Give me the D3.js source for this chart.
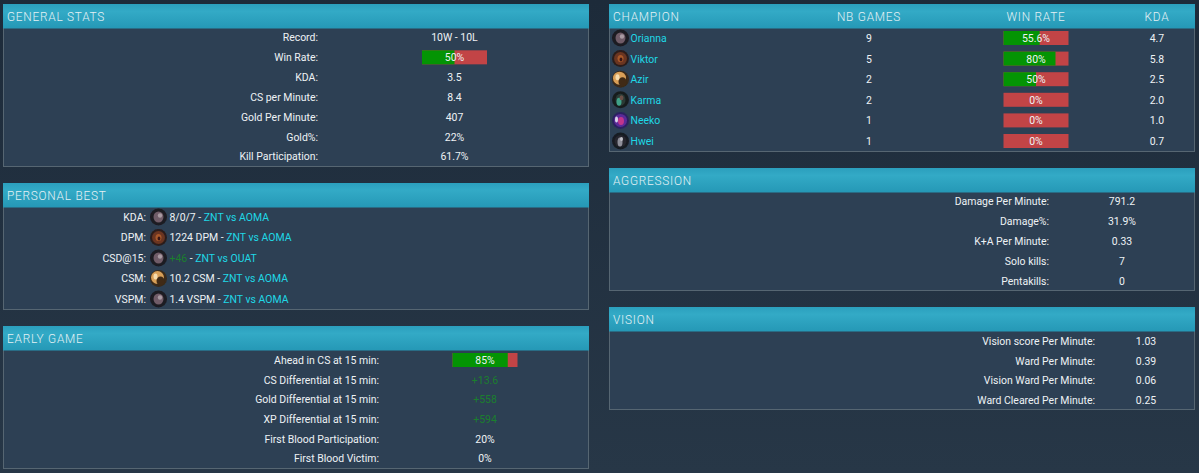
<!DOCTYPE html>
<html>
<head>
<meta charset="utf-8">
<script src="https://cdn.jsdelivr.net/npm/d3@7"></script>
<style>
html, body { margin: 0; padding: 0; background: #1f2e3e; overflow: hidden; }
text { font-family: Roboto, sans-serif; font-size: 11.5px; fill: #eef2f4; }
.head { font-size: 13px; font-weight: 300; letter-spacing: 0.85px; fill: #e4f1f5; }
.link { fill: #1fd8e6; }
.up { fill: #1b7f2e; }
</style>
</head>
<body>
<svg id="chart" width="1199" height="473"></svg>
<script>
// general stats
var generalLabels = ["Record:", "Win Rate:", "KDA:", "CS per Minute:", "Gold Per Minute:", "Gold%:", "Kill Participation:"];
var generalValues = ["10W - 10L", 50, "3.5", "8.4", "407", "22%", "61.7%"];

// personal best
var bestLabels = ["KDA:", "DPM:", "CSD@15:", "CSM:", "VSPM:"];
var bestIcons = ["Orianna", "Viktor", "Orianna", "Azir", "Orianna"];
var bestValues = ["8/0/7", "1224 DPM", "+46", "10.2 CSM", "1.4 VSPM"];
var bestGames = ["ZNT vs AOMA", "ZNT vs AOMA", "ZNT vs OUAT", "ZNT vs AOMA", "ZNT vs AOMA"];

// early game
var earlyLabels = ["Ahead in CS at 15 min:", "CS Differential at 15 min:", "Gold Differential at 15 min:", "XP Differential at 15 min:", "First Blood Participation:", "First Blood Victim:"];
var earlyValues = [85, "+13.6", "+558", "+594", "20%", "0%"];

// champions
var champions = ["Orianna", "Viktor", "Azir", "Karma", "Neeko", "Hwei"];
var champGames = [9, 5, 2, 2, 1, 1];
var champWin = [55.6, 80, 50, 0, 0, 0];
var champKda = ["4.7", "5.8", "2.5", "2.0", "1.0", "0.7"];
var champHeaders = ["NB GAMES", "WIN RATE", "KDA"];

// aggression
var aggrLabels = ["Damage Per Minute:", "Damage%:", "K+A Per Minute:", "Solo kills:", "Pentakills:"];
var aggrValues = ["791.2", "31.9%", "0.33", "7", "0"];

// vision
var visionLabels = ["Vision score Per Minute:", "Ward Per Minute:", "Vision Ward Per Minute:", "Ward Cleared Per Minute:"];
var visionValues = ["1.03", "0.39", "0.06", "0.25"];

// icon look: rim colour, then blobs as [dx, dy, rx, ry, colour]
var iconLook = {
  Orianna: ["#1d1a20", [[0, 0, 5, 5.5, "#6f5c67"], [1.5, -1.5, 2.2, 2.2, "#a99aa2"]]],
  Viktor: ["#2c1c1a", [[0, 0, 6.5, 6.5, "#6a3520"], [0, 0, 3, 3.6, "#a8582a"], [0.5, 1, 1.4, 2, "#381814"]]],
  Azir: ["#3a2a1a", [[-1, -1, 6.5, 6.5, "#d89f58"], [2, 2.5, 4, 4.5, "#3f2c18"], [-3, -2, 2, 3, "#f6dcae"]]],
  Karma: ["#181c1e", [[0, 0, 5, 6, "#2a3a36"], [-1.5, 2, 2.5, 4, "#3fa288"], [1, -2, 2, 2.5, "#6a5046"]]],
  Neeko: ["#2c2060", [[0, 0, 6.5, 6.5, "#5a2a98"], [0.5, 0.5, 3, 4, "#c0368c"], [-4, -1, 1.5, 3, "#d8d0e8"]]],
  Hwei: ["#181a22", [[0, 0, 6, 6, "#26262f"], [-0.5, 1, 2.5, 4.5, "#8f8f9a"], [1, -2, 1.5, 2, "#c2c2ca"]]]
};

var textSquash = 0.91;

var svg = d3.select("#chart");
var defs = svg.append("defs");

// page background
var bg = defs.append("linearGradient").attr("id", "bg").attr("x2", 0).attr("y2", 1);
bg.append("stop").attr("offset", 0).attr("stop-color", "#1d2b3a");
bg.append("stop").attr("offset", 1).attr("stop-color", "#273747");
svg.append("rect").attr("width", 1199).attr("height", 473).attr("fill", "url(#bg)");

var hd = defs.append("linearGradient").attr("id", "hd").attr("x2", 0).attr("y2", 1);
hd.append("stop").attr("offset", 0).attr("stop-color", "#2b9fbd");
hd.append("stop").attr("offset", 0.3).attr("stop-color", "#33aac6");
hd.append("stop").attr("offset", 1).attr("stop-color", "#2598b6");

defs.append("filter").attr("id", "soft").append("feGaussianBlur").attr("stdDeviation", 0.6);

var wScale = d3.scaleLinear().domain([0, 100]).range([0, 65]);

function panel(x0, x1, top, bottom, title) {
  var g = svg.append("g");
  g.append("rect").attr("x", x0 + 0.5).attr("y", top + 0.5).attr("width", x1 - x0 - 1).attr("height", bottom - top - 1)
    .attr("fill", "#2d4054").attr("stroke", "#566672");
  g.append("rect").attr("x", x0).attr("y", top).attr("width", x1 - x0).attr("height", 24.5).attr("fill", "url(#hd)");
  g.append("text").attr("class", "head").attr("x", x0 + 4).attr("y", top + 17).text(title);
  return g;
}

function rowScale(n, first, last) {
  return d3.scalePoint().domain(d3.range(n)).range([first, last]);
}

function winBar(g, cx, y, pct) {
  var left = cx - 32.5;
  g.append("rect").attr("x", left).attr("y", y - 7).attr("width", wScale(100)).attr("height", 14).attr("fill", "#c24446");
  g.append("rect").attr("x", left).attr("y", y - 7).attr("width", wScale(pct)).attr("height", 14).attr("fill", "#049404");
  g.append("text").attr("x", cx).attr("y", y + 4).attr("text-anchor", "middle").text(pct + "%");
}

function icon(g, cx, cy, name) {
  var look = iconLook[name];
  var ic = g.append("g").attr("filter", "url(#soft)");
  ic.append("circle").attr("cx", cx).attr("cy", cy).attr("r", 8.5).attr("fill", look[0]);
  look[1].forEach(function(b) {
    ic.append("ellipse").attr("cx", cx + b[0]).attr("cy", cy + b[1]).attr("rx", b[2]).attr("ry", b[3]).attr("fill", b[4]);
  });
}

function statRows(g, labels, values, y, labelX, valueX) {
  labels.forEach(function(d, i) {
    g.append("text").attr("x", labelX).attr("y", y(i) + 4).attr("text-anchor", "end").text(d);
    var v = values[i];
    if (typeof v === "number") {
      winBar(g, valueX, y(i), v);
    } else {
      g.append("text").attr("x", valueX).attr("y", y(i) + 4).attr("text-anchor", "middle")
        .attr("class", v[0] === "+" ? "up" : null).text(v);
    }
  });
}

var gen = panel(3, 589, 4, 167, "GENERAL STATS");
statRows(gen, generalLabels, generalValues, rowScale(7, 37.5, 156.5), 318, 454.5);

var best = panel(3, 589, 183, 310, "PERSONAL BEST");
var bestY = rowScale(5, 217, 299);
bestLabels.forEach(function(d, i) {
  var y = bestY(i);
  best.append("text").attr("x", 146).attr("y", y + 4).attr("text-anchor", "end").text(d);
  icon(best, 158.5, y, bestIcons[i]);
  var t = best.append("text").attr("x", 169.5).attr("y", y + 4);
  t.append("tspan").attr("class", bestValues[i][0] === "+" ? "up" : null).text(bestValues[i]);
  t.append("tspan").text(" - ");
  t.append("tspan").attr("class", "link").text(bestGames[i]);
});

var early = panel(3, 589, 326, 469, "EARLY GAME");
statRows(early, earlyLabels, earlyValues, rowScale(6, 360, 458.5), 379, 485);

var champ = panel(609, 1195, 4, 152, "CHAMPION");
var champX = [869, 1036, 1157];
champHeaders.forEach(function(d, i) {
  champ.append("text").attr("class", "head").attr("x", champX[i]).attr("y", 21).attr("text-anchor", "middle").text(d);
});
var champY = rowScale(6, 38, 141);
champions.forEach(function(d, i) {
  var y = champY(i);
  icon(champ, 620.5, y, d);
  champ.append("text").attr("class", "link").attr("x", 630.5).attr("y", y + 4).text(d);
  champ.append("text").attr("x", champX[0]).attr("y", y + 4).attr("text-anchor", "middle").text(champGames[i]);
  winBar(champ, champX[1], y, champWin[i]);
  champ.append("text").attr("x", champX[2]).attr("y", y + 4).attr("text-anchor", "middle").text(champKda[i]);
});

var aggr = panel(609, 1195, 168, 291, "AGGRESSION");
statRows(aggr, aggrLabels, aggrValues, rowScale(5, 201, 281), 1049, 1122);

var vis = panel(609, 1195, 307, 410, "VISION");
statRows(vis, visionLabels, visionValues, rowScale(4, 341, 400), 1095, 1146);

// the reference type is narrower than Roboto, squeeze each label around its own anchor
svg.selectAll("text").each(function() {
  var x = +this.getAttribute("x");
  this.setAttribute("transform", "translate(" + x + " 0) scale(" + textSquash + " 1) translate(" + (-x) + " 0)");
});
</script>
</body>
</html>
